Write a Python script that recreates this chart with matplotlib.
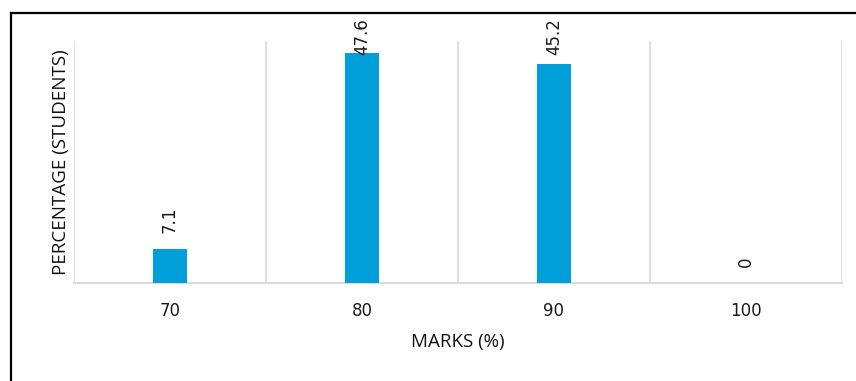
import matplotlib
matplotlib.use("Agg")

import matplotlib.pyplot as plt
from matplotlib.lines import Line2D
import numpy as np

marks = ["70", "80", "90", "100"]
percent_students = [7.1, 47.6, 45.2, 0]

BAR_COLOR = "#009fda"
GRID_COLOR = "#d9d9d9"

fig = plt.figure(figsize=(8.56, 3.81), dpi=100)
ax = fig.add_axes([74 / 856, 98 / 381, 768 / 856, 242 / 381])

x = np.arange(len(marks))
ax.bar(x, percent_students, width=0.18, color=BAR_COLOR, zorder=3)

# value labels sit a little above each bar, held below the top of the plot
for xi, v in zip(x, percent_students):
    ax.text(xi, min(v + 3.3, 47.1), f"{v:g}", rotation=90, ha="center", va="bottom",
            fontsize=12, family="DejaVu Sans", color="#1a1a1a", zorder=4)

ax.set_xlim(-0.5, len(marks) - 0.5)
ax.set_ylim(0, 50)

# category separators instead of tick marks
for b in np.arange(len(marks) + 1) - 0.5:
    ax.axvline(b, color=GRID_COLOR, lw=1.2, zorder=1)

ax.set_xticks(x)
ax.set_xticklabels(marks, family="DejaVu Sans", fontsize=12, color="#1a1a1a")
ax.tick_params(axis="x", length=0, pad=14)
ax.set_yticks([])

for side in ["top", "right", "left"]:
    ax.spines[side].set_visible(False)
ax.spines["bottom"].set_color(GRID_COLOR)
ax.spines["bottom"].set_linewidth(1.4)

ax.set_xlabel("MARKS (%)", family="Open Sans", fontsize=13.5, color="#111111", labelpad=9)
ax.set_ylabel("PERCENTAGE (STUDENTS)", family="Open Sans", fontsize=13.5, color="#111111", labelpad=3)

# frame around the chart area (top and left edges)
fig.add_artist(Line2D([11 / 856, 1], [1 - 13 / 381, 1 - 13 / 381], color="black", lw=1.6))
fig.add_artist(Line2D([11 / 856, 11 / 856], [0, 1 - 13 / 381], color="black", lw=1.6))

fig.savefig("out.png", dpi=100)
plt.close(fig)
